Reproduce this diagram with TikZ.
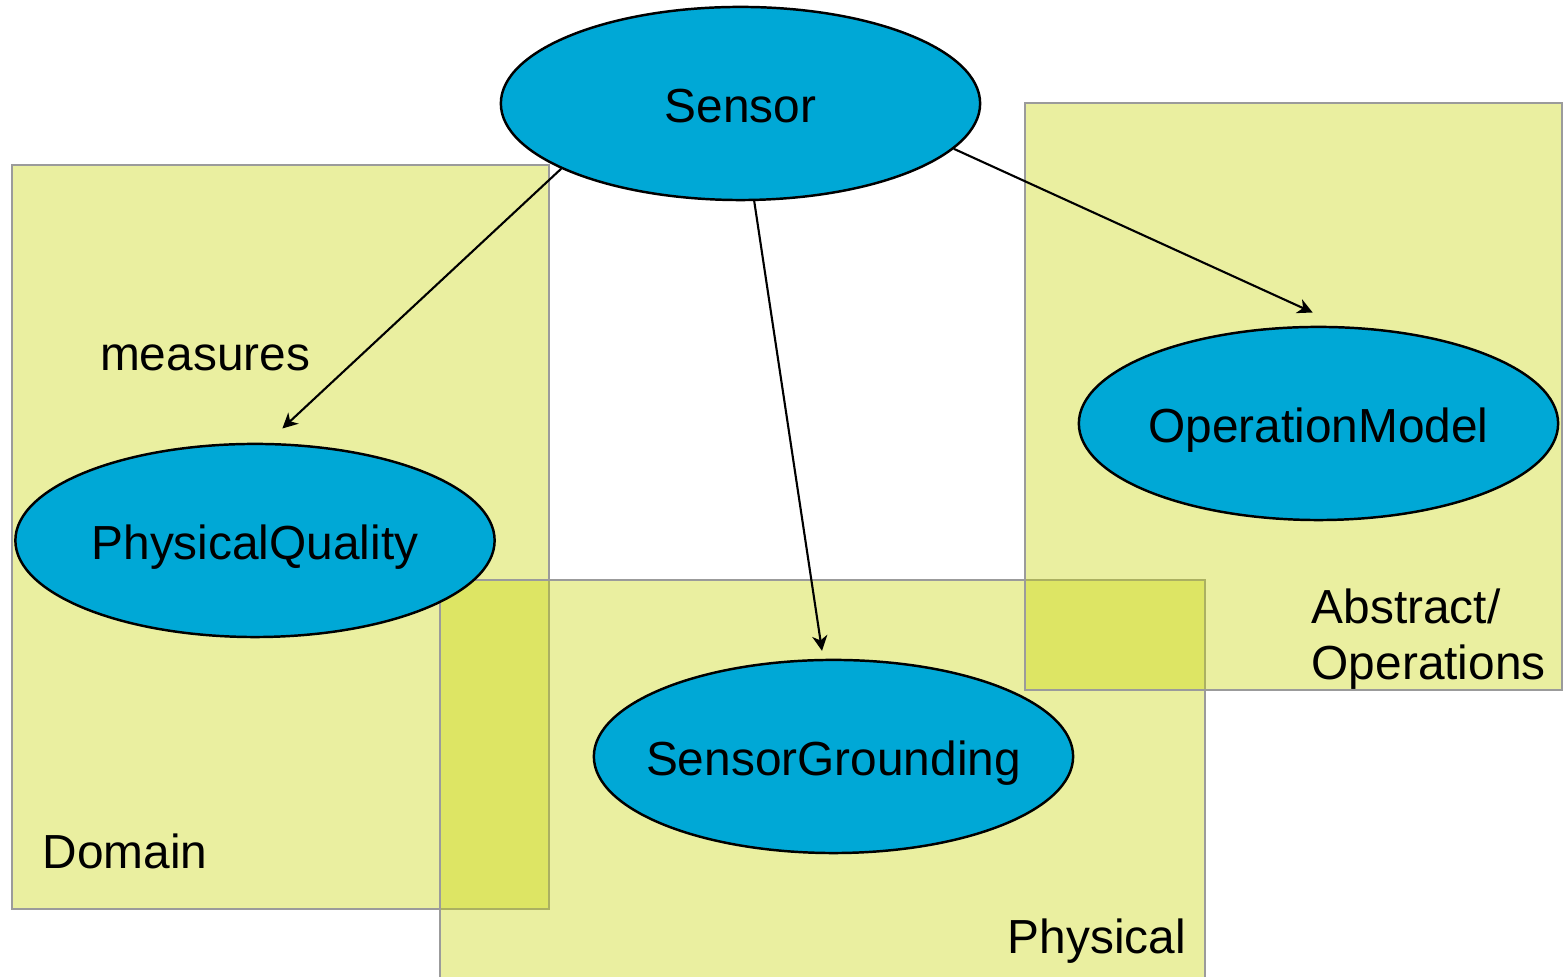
\documentclass[tikz,border=0pt]{standalone}
\usepackage{fontspec}
\setmainfont{Liberation Sans}
\usetikzlibrary{positioning,shapes.geometric,arrows.meta}
\definecolor{SkyFill}{RGB}{0,168,214}
\definecolor{AreaFill}{RGB}{199,212,0}
\definecolor{AreaLine}{RGB}{155,155,155}

\begin{document}
\begin{tikzpicture}[x=0.01cm,y=-0.01cm,
                    >={Stealth[length=4.3pt,width=4.3pt,inset=1.3pt]},
                    font={\fontsize{13.6}{16.2}\selectfont},
                    area/.style={draw=AreaLine,line width=.6pt,fill=AreaFill,fill opacity=.374,inner sep=0pt},
                    concept/.style={draw,ellipse,line width=.7pt,fill=SkyFill,minimum width=4.79cm,minimum height=1.93cm,
                                    inner xsep=-1cm,inner ysep=0pt,text height=11pt,text depth=0pt},
                    tag/.style={inner sep=0pt,anchor=base west,align=left}]
  \useasboundingbox (0,0) rectangle (1565,977);
  \clip (0,0) rectangle (1565,977);
  \node[area,minimum width=5.37cm,minimum height=7.44cm] (domain) at (280.5,537) {};
  \node[area,minimum width=7.65cm,minimum height=4.1cm] (physical) at (822.5,785) {};
  \node[area,minimum width=5.37cm,minimum height=5.87cm] (abstract) at (1293.5,396.5) {};
  \node[tag] (domain-label) at (42,869) {Domain};
  \node[tag] (physical-label) at (1007,954) {Physical};
  \node[tag] (abstract-label) at (1311,680) {Abstract/\\Operations};
  \node[concept] (sensor) at (740.5,103.5) {Sensor};
  \node[concept] (quality) at (255,540.5) {PhysicalQuality};
  \node[concept] (grounding) at (833.5,756.5) {SensorGrounding};
  \node[concept] (operation) at (1318.5,423.5) {OperationModel};
  \draw[->,line width=.6pt,shorten >=.21cm] (sensor.200) -- node[pos=.69,left=.47cm,inner sep=0pt] (measures) {measures} (quality.83);
  \draw[->,line width=.6pt,shorten >=.08cm] (sensor.278.5) -- (grounding.96.1);
  \draw[->,line width=.6pt,shorten >=.33cm] (sensor.348) -- (operation.76);
\end{tikzpicture}
\end{document}
